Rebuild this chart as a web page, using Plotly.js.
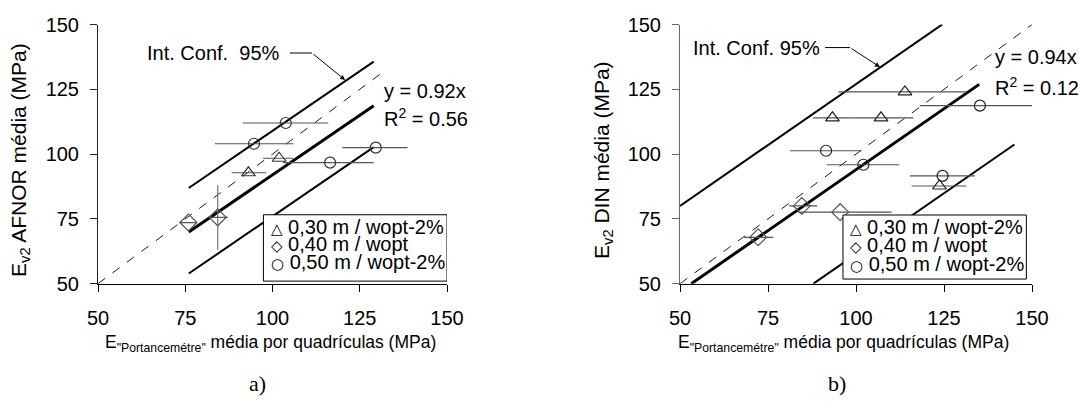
<!DOCTYPE html>
<html>
<head>
<meta charset="utf-8">
<script src="https://cdn.plot.ly/plotly-3.0.1.min.js"></script>
<style>
html,body{margin:0;padding:0;background:#fff;}
#chart{width:1081px;height:405px;}
</style>
</head>
<body>
<div id="chart"></div>
<script>
// ---------- DATA: a) AFNOR ----------
const afnorTriX = [93.1, 101.9];
const afnorTriY = [92.8, 98.4];
const afnorTriErrPlus = [5.1, 4.0];
const afnorTriErrMinus = [4.8, 4.6];

const afnorDiaX = [75.9, 84.3];
const afnorDiaY = [73.6, 75.6];
const afnorDiaErrPlus = [2.4, 2.9];
const afnorDiaErrMinus = [2.6, 2.3];
const afnorDiaErrY = [0, 12.5];

const afnorCirX = [94.7, 103.8, 116.5, 129.6];
const afnorCirY = [104.0, 112.0, 96.7, 102.5];
const afnorCirErrPlus = [11.3, 12.2, 12.5, 9.1];
const afnorCirErrMinus = [11.2, 12.3, 13.5, 9.6];

const afnorSlope = 0.92;
const afnorR2 = "0.56";
const afnorFitX = [76, 129];
const afnorCIUpper = 17;
const afnorCILower = -16;
const afnorEqualX = [50, 131];

// ---------- DATA: b) DIN ----------
const dinTriX = [113.9, 93.3, 107.1, 123.7];
const dinTriY = [124.0, 114.0, 114.0, 87.7];
const dinTriErrPlus = [17.5, 5.5, 9.2, 7.7];
const dinTriErrMinus = [18.9, 5.5, 8.3, 7.9];

const dinDiaX = [72.2, 84.6, 95.5];
const dinDiaY = [67.9, 80.0, 77.6];
const dinDiaErrPlus = [4.3, 4.4, 14.6];
const dinDiaErrMinus = [4.0, 3.6, 11.9];

const dinCirX = [135.2, 91.5, 102.1, 124.6];
const dinCirY = [118.7, 101.3, 95.9, 91.6];
const dinCirErrPlus = [16.2, 10.1, 10.2, 9.2];
const dinCirErrMinus = [17.0, 10.25, 10.4, 9.3];

const dinSlope = 0.94;
const dinR2 = "0.12";
const dinFitX = [53.2, 135];
const dinUpperX = [50, 124.5];
const dinLowerX = [87.9, 145];
const dinCIUpper = 33;
const dinCILower = -32.6;
const dinEqualX = [50, 150];

const tickVals = [50, 75, 100, 125, 150];
const legendLabels = ["0,30 m / wopt-2%", "0,40 m / wopt", "0,50 m / wopt-2%"];
const legendSymbols = ["△", "◇", "○"];

// ---------- helpers ----------
const FONT = "Liberation Sans, Arial, Helvetica, sans-serif";
const SERIF = "Liberation Serif, Times New Roman, serif";
const line = (xs, slope, off) => xs.map(x => slope * x + off);

function pts(x, y, ep, em, sym, size, xa, ya, col, ey) {
  const t = {
    type: "scatter", mode: "markers", x: x, y: y, xaxis: xa, yaxis: ya,
    showlegend: false, cliponaxis: false,
    marker: {symbol: sym, size: size, color: col, line: {width: 1.2, color: col}},
    error_x: {type: "data", symmetric: false, array: ep, arrayminus: em,
              color: "#555", thickness: 1.2, width: 0}
  };
  if (ey) t.error_y = {type: "data", array: ey, color: "#777", thickness: 1.2, width: 0};
  return t;
}
function ln(x, y, xa, ya, w, dash) {
  return {type: "scatter", mode: "lines", x: x, y: y, xaxis: xa, yaxis: ya,
          showlegend: false, hoverinfo: "skip",
          line: {color: "#000", width: w, dash: dash || "solid"}};
}

const data = [
  ln(afnorEqualX, line(afnorEqualX, 1, 0), "x", "y", 0.9, "dash"),
  ln(afnorFitX, line(afnorFitX, afnorSlope, 0), "x", "y", 3),
  ln(afnorFitX, line(afnorFitX, afnorSlope, afnorCIUpper), "x", "y", 2),
  ln(afnorFitX, line(afnorFitX, afnorSlope, afnorCILower), "x", "y", 2),
  pts(afnorTriX, afnorTriY, afnorTriErrPlus, afnorTriErrMinus, "triangle-up-open", 12, "x", "y", "#333"),
  pts(afnorDiaX, afnorDiaY, afnorDiaErrPlus, afnorDiaErrMinus, "diamond-open", 13, "x", "y", "#555", afnorDiaErrY),
  pts(afnorCirX, afnorCirY, afnorCirErrPlus, afnorCirErrMinus, "circle-open", 11, "x", "y", "#333"),
  ln(dinEqualX, line(dinEqualX, 1, 0), "x2", "y2", 0.9, "dash"),
  ln(dinFitX, line(dinFitX, dinSlope, 0), "x2", "y2", 3),
  ln(dinUpperX, line(dinUpperX, dinSlope, dinCIUpper), "x2", "y2", 2),
  ln(dinLowerX, line(dinLowerX, dinSlope, dinCILower), "x2", "y2", 2),
  pts(dinTriX, dinTriY, dinTriErrPlus, dinTriErrMinus, "triangle-up-open", 12, "x2", "y2", "#222"),
  pts(dinDiaX, dinDiaY, dinDiaErrPlus, dinDiaErrMinus, "diamond-open", 13, "x2", "y2", "#555"),
  pts(dinCirX, dinCirY, dinCirErrPlus, dinCirErrMinus, "circle-open", 11, "x2", "y2", "#222")
];

function xAxis(dom, anchor) {
  return {domain: dom, anchor: anchor, range: [50, 150], tickvals: tickVals,
          showgrid: false, zeroline: false, showline: true, linecolor: "#000", linewidth: 1,
          ticks: "outside", ticklen: 7, tickcolor: "#000", ticklabelstandoff: 9,
          tickfont: {family: FONT, size: 20, color: "#000"}, fixedrange: true};
}
function yAxis(dom, anchor, col) {
  return {domain: dom, anchor: anchor, range: [50, 150], tickvals: tickVals,
          showgrid: false, zeroline: false, showline: true, linecolor: col, linewidth: 1,
          ticks: "outside", ticklen: 7, tickcolor: col, ticklabelstandoff: 7,
          tickfont: {family: FONT, size: 20, color: "#000"}, fixedrange: true};
}

const yDom = [0.2995, 0.9395];
const txt = (t, x, y, xref, yref, xa, ya, extra) => Object.assign({
  text: t, x: x, y: y, xref: xref, yref: yref, xanchor: xa, yanchor: ya,
  showarrow: false, font: {family: FONT, size: 20, color: "#000"}
}, extra || {});

function legendAnn(xref, yref, x, ys) {
  return legendLabels.map((l, i) => txt(
    '<span style="font-family:DejaVu Sans;font-size:15px;fill:#000">' + legendSymbols[i] + '</span> ' + l,
    x, ys[i], xref, yref, "left", "middle"));
}

const annotations = [
  txt("E<sub>v2</sub> AFNOR média (MPa)", 20/1081, 0.605, "paper", "paper", "center", "middle", {textangle: -90, font: {family: FONT, size: 21, color: "#000"}}),
  txt('E<sub>"Portancemétre"</sub> média por quadrículas (MPa)', 270/1081, (405-343)/405, "paper", "paper", "center", "middle", {font: {family: FONT, size: 17.5, color: "#000"}}),
  txt("E<sub>v2</sub> DIN média (MPa)", 603/1081, 0.605, "paper", "paper", "center", "middle", {textangle: -90, font: {family: FONT, size: 21, color: "#000"}}),
  txt('E<sub>"Portancemétre"</sub> média por quadrículas (MPa)', 843/1081, (405-343)/405, "paper", "paper", "center", "middle", {font: {family: FONT, size: 17.5, color: "#000"}}),
  txt("Int. Conf.  95%", 102.7, 139, "x", "y", "right", "middle"),
  {x: 120.8, y: 128.6, ax: 111.3, ay: 139, xref: "x", yref: "y", axref: "x", ayref: "y",
   text: "", showarrow: true, arrowhead: 2, arrowsize: 1, arrowwidth: 1, arrowcolor: "#000", standoff: 0},
  txt("y = 0.92x", 131.5, 124.5, "x", "y", "left", "middle"),
  txt("R<sup>2</sup> = " + afnorR2, 131.5, 114, "x", "y", "left", "middle"),
  txt("Int. Conf. 95%", 90.3, 141.1, "x2", "y2", "right", "middle"),
  {x: 106.8, y: 133.6, ax: 98.3, ay: 141.1, xref: "x2", yref: "y2", axref: "x2", ayref: "y2",
   text: "", showarrow: true, arrowhead: 2, arrowsize: 1, arrowwidth: 1, arrowcolor: "#000", standoff: 0},
  txt("y = 0.94x", 138.9, 137.6, "x2", "y2", "left", "middle"),
  txt("R<sup>2</sup> = " + dinR2, 138.9, 125.9, "x2", "y2", "left", "middle"),
  txt("a)", 257/1081, (405-383)/405, "paper", "paper", "center", "middle", {font: {family: SERIF, size: 22, color: "#000"}}),
  txt("b)", 837/1081, (405-383)/405, "paper", "paper", "center", "middle", {font: {family: SERIF, size: 22, color: "#000"}}),
  txt("Figura 6 – Correlações entre os módulos médios E<sub>v2</sub> obtidos à 10 cm e os valores médios de cada quadrícula utilizada",
      17/1081, (405-399)/405, "paper", "paper", "left", "top", {font: {family: SERIF, size: 22, color: "#000"}})
].concat(
  legendAnn("x", "y", 98.9, [72.0, 65.3, 58.3]),
  legendAnn("x2", "y2", 97.6, [72.0, 64.8, 57.7])
);

const shapes = [
  {type: "line", xref: "x", yref: "y", x0: 105.0, x1: 111.3, y0: 139, y1: 139, line: {color: "#000", width: 1}},
  {type: "line", xref: "x2", yref: "y2", x0: 91.2, x1: 98.3, y0: 141.1, y1: 141.1, line: {color: "#000", width: 1}},
  {type: "rect", xref: "x", yref: "y", x0: 97.4, x1: 150, y0: 51.0, y1: 76.6,
   line: {color: "#000", width: 1}, fillcolor: "#fff", layer: "above"},
  {type: "rect", xref: "x2", yref: "y2", x0: 96.3, x1: 148.4, y0: 51.8, y1: 76.5,
   line: {color: "#000", width: 1}, fillcolor: "#fff", layer: "above"}
];

const layout = {
  width: 1081, height: 405,
  margin: {l: 0, r: 0, t: 0, b: 0, pad: 0},
  paper_bgcolor: "#fff", plot_bgcolor: "rgba(0,0,0,0)",
  showlegend: false,
  xaxis: xAxis([98/1081, 447/1081], "y"),
  yaxis: yAxis(yDom, "x", "#222"),
  xaxis2: xAxis([680/1081, 1032/1081], "y2"),
  yaxis2: yAxis(yDom, "x2", "#666"),
  annotations: annotations,
  shapes: shapes
};

Plotly.newPlot("chart", data, layout, {staticPlot: true, displayModeBar: false});
</script>
</body>
</html>
